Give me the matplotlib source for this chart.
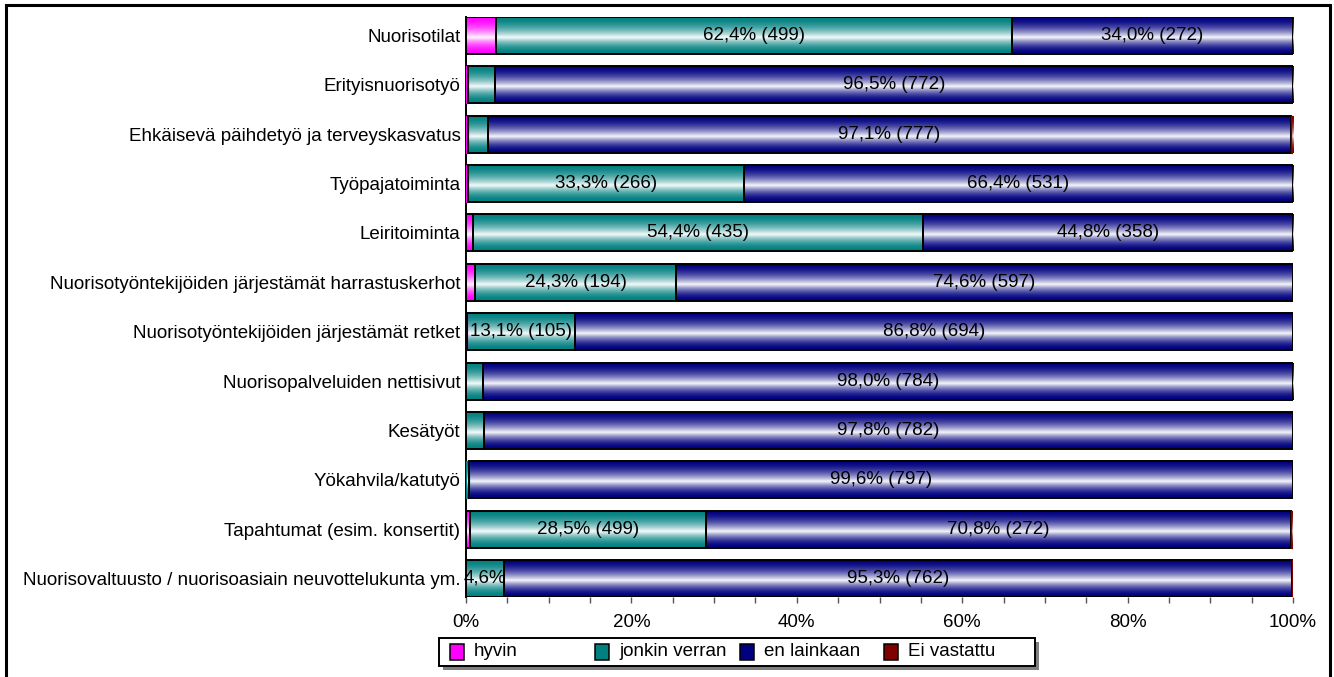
import numpy as np
import matplotlib
matplotlib.use("Agg")
import matplotlib.pyplot as plt
from matplotlib.patches import Rectangle
from matplotlib.ticker import MultipleLocator, FuncFormatter

plt.rcParams['font.family'] = ['Liberation Sans', 'DejaVu Sans']

categories = [
    "Nuorisotilat",
    "Erityisnuorisotyö",
    "Ehkäisevä päihdetyö ja terveyskasvatus",
    "Työpajatoiminta",
    "Leiritoiminta",
    "Nuorisotyöntekijöiden järjestämät harrastuskerhot",
    "Nuorisotyöntekijöiden järjestämät retket",
    "Nuorisopalveluiden nettisivut",
    "Kesätyöt",
    "Yökahvila/katutyö",
    "Tapahtumat (esim. konsertit)",
    "Nuorisovaltuusto / nuorisoasiain neuvottelukunta ym.",
]
series_names = ["hyvin", "jonkin verran", "en lainkaan", "Ei vastattu"]
hyvin = [3.6, 0.3, 0.2, 0.3, 0.8, 1.1, 0.1, 0.0, 0.0, 0.0, 0.5, 0.0]
jonkin = [62.4, 3.2, 2.4, 33.3, 54.4, 24.3, 13.1, 2.0, 2.2, 0.4, 28.5, 4.6]
en_lainkaan = [34.0, 96.5, 97.1, 66.4, 44.8, 74.6, 86.8, 98.0, 97.8, 99.6, 70.8, 95.3]
ei_vastattu = [0.0, 0.0, 0.3, 0.0, 0.0, 0.0, 0.0, 0.0, 0.0, 0.0, 0.2, 0.1]
labels_jonkin = ["62,4% (499)", "", "", "33,3% (266)", "54,4% (435)", "24,3% (194)",
                 "13,1% (105)", "", "", "", "28,5% (499)", "4,6%"]
labels_en = ["34,0% (272)", "96,5% (772)", "97,1% (777)", "66,4% (531)", "44,8% (358)",
             "74,6% (597)", "86,8% (694)", "98,0% (784)", "97,8% (782)", "99,6% (797)",
             "70,8% (272)", "95,3% (762)"]
colors = ["#FF00FF", "#008080", "#000080", "#800000"]

W, H = 1334, 677
fig = plt.figure(figsize=(W / 100, H / 100), dpi=100)
ax = fig.add_axes([466 / W, 1 - 597 / H, (1293 - 466) / W, (597 - 17) / H])

y = np.arange(len(categories))
bar_h = 0.75
FS = 13.5


def gradient_rgb(color, n=80):
    c = np.array(matplotlib.colors.to_rgb(color))
    t = np.linspace(0, 1, n)
    peak = 0.56
    w = np.where(t < peak, t / peak, (1 - t) / (1 - peak))
    w = 0.97 * np.clip(w, 0, 1) ** 1.9
    rgb = c[None, :] * (1 - w[:, None]) + np.ones(3)[None, :] * w[:, None]
    return rgb[:, None, :]


left = np.zeros(len(categories))
containers = []
for vals, col in zip([hyvin, jonkin, en_lainkaan, ei_vastattu], colors):
    vals = np.array(vals)
    cont = ax.barh(y, vals, left=left, height=bar_h, facecolor='none',
                   edgecolor='black', linewidth=1.4, zorder=3)
    img = gradient_rgb(col)
    for p in cont.patches:
        if p.get_width() <= 0:
            p.set_visible(False)
            continue
        x0, y0 = p.get_x(), p.get_y()
        x1, y1 = x0 + p.get_width(), y0 + p.get_height()
        im = ax.imshow(img, extent=(x0, x1, y0, y1), origin='lower',
                       aspect='auto', interpolation='bilinear', zorder=2)
        im.set_clip_path(p)
        if p.get_width() < 0.45:
            p.set_edgecolor(col)
            p.set_linewidth(0.9)
    containers.append(cont)
    left = left + vals

ax.bar_label(containers[1], labels=labels_jonkin, label_type='center', fontsize=FS, zorder=5)
ax.bar_label(containers[2], labels=labels_en, label_type='center', fontsize=FS, zorder=5)

ax.set_xlim(0, 100)
ax.set_ylim(len(categories) - 1 + bar_h / 2, -bar_h / 2)
ax.set_yticks(y)
ax.set_yticklabels(categories, fontsize=FS)
ax.tick_params(axis='y', length=0, pad=4)
ax.xaxis.set_major_locator(MultipleLocator(20))
ax.xaxis.set_minor_locator(MultipleLocator(5))
ax.xaxis.set_major_formatter(FuncFormatter(lambda v, _: f"{v:.0f}%"))
ax.tick_params(axis='x', which='both', length=4, width=1, color='#555555', labelsize=FS, pad=8)
for s in ['top', 'right', 'bottom']:
    ax.spines[s].set_visible(False)
ax.spines['left'].set_linewidth(1.4)
ax.set_facecolor('none')


def fx(px):
    return px / W


def fy(py):
    return 1 - py / H


# outer frame
fig.add_artist(Rectangle((fx(6), fy(700)), fx(1330) - fx(6), fy(5) - fy(700),
                         transform=fig.transFigure, fill=False, edgecolor='black',
                         linewidth=2.2))

# legend with shadow
lx0, lx1, ly0, ly1 = 439, 1035, 638, 666
fig.add_artist(Rectangle((fx(lx0 + 4), fy(ly1 + 4)), fx(lx1) - fx(lx0), fy(ly0) - fy(ly1),
                         transform=fig.transFigure, facecolor='#808080', edgecolor='none'))
fig.add_artist(Rectangle((fx(lx0), fy(ly1)), fx(lx1) - fx(lx0), fy(ly0) - fy(ly1),
                         transform=fig.transFigure, facecolor='white', edgecolor='black',
                         linewidth=1.4))
patch_x = [450, 595, 740, 884]
for px, name, col in zip(patch_x, series_names, colors):
    fig.add_artist(Rectangle((fx(px), fy(660)), fx(14), 16 / H,
                             transform=fig.transFigure, facecolor=col, edgecolor='black',
                             linewidth=1.1))
    fig.text(fx(px + 24), fy(652), name, fontsize=FS, va='center', ha='left')

fig.savefig("out.png", dpi=100)
